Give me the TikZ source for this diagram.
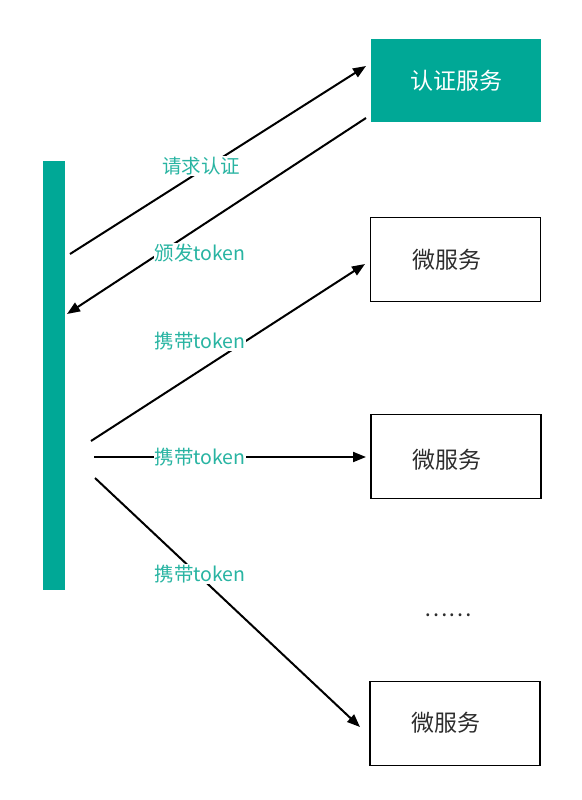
\documentclass[tikz,border=0pt]{standalone}
\usepackage{fontspec}
\setmainfont{Noto Sans CJK SC}
\usetikzlibrary{arrows.meta}
\definecolor{teal1}{RGB}{0,168,150}
\definecolor{teallbl}{RGB}{40,180,162}
\definecolor{boxtext}{RGB}{45,45,45}
\tikzset{
  box/.style={draw=black, line width=1.8pt, minimum width=170pt, minimum height=84pt, inner sep=0pt},
  boxtxt/.style={text=boxtext, font=\fontsize{23}{26}\selectfont, inner sep=0pt},
  authbox/.style={fill=teal1, draw=none, minimum width=170pt, minimum height=83pt, inner sep=0pt, text=white, font=\fontsize{23}{26}\selectfont},
  conn/.style={line width=2pt, -{Triangle[length=13pt,width=10pt]}},
  lbl/.style={text=teallbl, fill=white, inner sep=1pt, font=\fontsize{19.5}{22}\selectfont}
}
\begin{document}
\begin{tikzpicture}[x=1pt,y=-1pt]
\useasboundingbox (0,0) rectangle (581,800);
\node[authbox] (auth) at (456,80.5) {认证服务};
\node[box] (ms1) at (455.5,259.5) {};
\node[box] (ms2) at (456,456.5) {};
\node[box] (ms3) at (455,723.5) {};
\node[boxtxt] (t1) at (447,260) {微服务};
\node[boxtxt] (t2) at (447,460) {微服务};
\node[boxtxt] (t3) at (446,723) {微服务};
\node[fill=teal1, minimum width=22pt, minimum height=429pt, inner sep=0pt] (bar) at (54,375.5) {};
\node[text=boxtext, font=\fontsize{22}{24}\selectfont] (dots) at (448,615) {……};
\coordinate (s1) at (70,254);  \coordinate (e1) at (366,66);
\coordinate (s2) at (366,118); \coordinate (e2) at (67,314);
\coordinate (s3) at (91,441);  \coordinate (e3) at (365,264);
\coordinate (s4) at (94,457);  \coordinate (e4) at (366,457);
\coordinate (s5) at (95,478);  \coordinate (e5) at (360,727);
\draw[conn] (s1) -- (e1);
\draw[conn] (s2) -- (e2);
\draw[conn] (s3) -- (e3);
\draw[conn] (s4) -- (e4);
\draw[conn] (s5) -- (e5);
\node[lbl] (l1) at (201,166) {请求认证};
\node[lbl] (l2) at (200,253) {颁发token};
\node[lbl] (l3) at (200,341) {携带token};
\node[lbl] (l4) at (200,457) {携带token};
\node[lbl] (l5) at (200,574) {携带token};
\end{tikzpicture}
\end{document}
